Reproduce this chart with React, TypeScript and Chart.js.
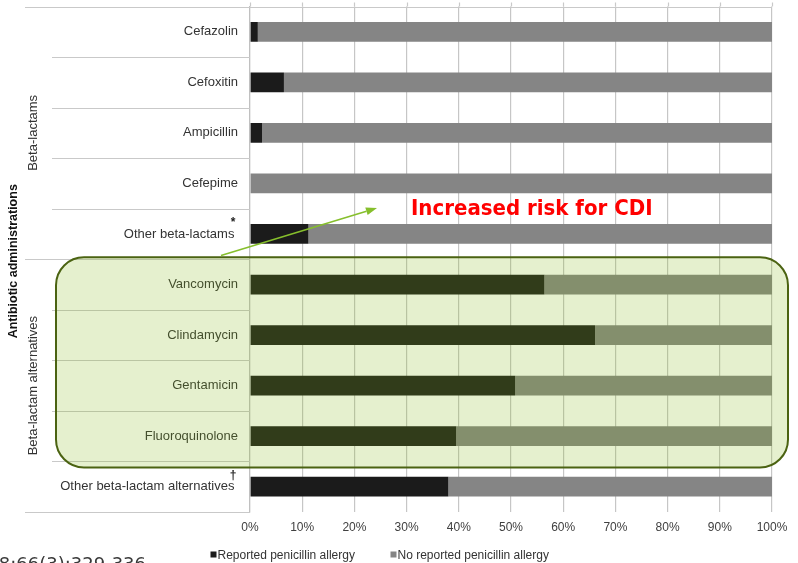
import React, { useEffect, useRef } from "react";
import { Chart, registerables } from "chart.js";

Chart.register(...registerables);

const categories = [
  "Cefazolin",
  "Cefoxitin",
  "Ampicillin",
  "Cefepime",
  "Other beta-lactams ",
  "Vancomycin",
  "Clindamycin",
  "Gentamicin",
  "Fluoroquinolone",
  "Other beta-lactam alternatives ",
];
const allergyValues = [1.5, 6.5, 2.3, 0, 11.2, 56.4, 66.1, 50.8, 39.5, 38.0];
const noAllergyValues = [98.5, 93.5, 97.7, 100, 88.8, 43.6, 33.9, 49.2, 60.5, 62.0];
const seriesNames = ["Reported penicillin allergy", "No reported penicillin allergy"];
const seriesColors = ["#1b1b1b", "#858585"];
const superscripts = [
  { index: 4, mark: "*" },
  { index: 9, mark: "\u2020" },
];
const groups = [
  { name: "Beta-lactams", from: 0, to: 4 },
  { name: "Beta-lactam alternatives", from: 5, to: 9 },
];
const axisTitle = "Antibiotic administrations";
const annotationText = "Increased risk for CDI";
const citationText = "2018;66(3):329-336";
const highlightFrom = 5;
const highlightTo = 8;

const FONT = "'Liberation Sans', Arial, sans-serif";

const decorPlugin = {
  id: "decor",
  afterDraw(chart: any) {
    const ctx = chart.ctx as CanvasRenderingContext2D;
    const y = chart.scales.y;
    const x = chart.scales.x;
    const area = chart.chartArea;
    const n = categories.length;
    const band = (area.bottom - area.top) / n;
    const boundary = (i: number) => area.top + i * band;

    ctx.save();
    // separators in label area
    ctx.strokeStyle = "#c9c9c9";
    ctx.lineWidth = 1.2;
    for (let i = 0; i <= n; i++) {
      const yy = Math.round(boundary(i)) + 0.5;
      const isOuter = i === 0 || i === n || i === groups[1].from;
      ctx.beginPath();
      ctx.moveTo(isOuter ? 25 : 52, yy);
      ctx.lineTo(i === 0 ? area.right : area.left, yy);
      ctx.stroke();
    }
    // grid extension above top
    for (let v = 0; v <= 100; v += 10) {
      const xx = Math.round(x.getPixelForValue(v)) + 0.5;
      ctx.beginPath();
      ctx.moveTo(xx, area.top - 4);
      ctx.lineTo(xx, area.top);
      ctx.stroke();
    }

    // rotated group labels
    ctx.fillStyle = "#333333";
    ctx.textAlign = "center";
    ctx.textBaseline = "middle";
    ctx.font = `13px ${FONT}`;
    groups.forEach((g) => {
      const cy = (boundary(g.from) + boundary(g.to + 1)) / 2;
      ctx.save();
      ctx.translate(33, cy);
      ctx.rotate(-Math.PI / 2);
      ctx.fillText(g.name, 0, 0);
      ctx.restore();
    });
    ctx.font = `bold 12.5px ${FONT}`;
    ctx.fillStyle = "#111111";
    ctx.save();
    ctx.translate(14, (area.top + area.bottom) / 2 + 2);
    ctx.rotate(-Math.PI / 2);
    ctx.fillText(axisTitle, 0, 0);
    ctx.restore();

    // superscripts
    ctx.font = `bold 12px ${FONT}`;
    ctx.fillStyle = "#222222";
    superscripts.forEach((s) => {
      const cy = y.getPixelForValue(s.index);
      ctx.fillText(s.mark, 233, cy - 11);
    });

    // highlight overlay
    const top = boundary(highlightFrom) - 2;
    const bottom = boundary(highlightTo + 1) + 6;
    const left = 56;
    const right = 788;
    const r = 28;
    ctx.beginPath();
    ctx.moveTo(left + r, top);
    ctx.lineTo(right - r, top);
    ctx.arcTo(right, top, right, top + r, r);
    ctx.lineTo(right, bottom - r);
    ctx.arcTo(right, bottom, right - r, bottom, r);
    ctx.lineTo(left + r, bottom);
    ctx.arcTo(left, bottom, left, bottom - r, r);
    ctx.lineTo(left, top + r);
    ctx.arcTo(left, top, left + r, top, r);
    ctx.closePath();
    ctx.fillStyle = "rgba(130,185,25,0.21)";
    ctx.fill();
    ctx.strokeStyle = "#4b6312";
    ctx.lineWidth = 2;
    ctx.stroke();

    // arrow
    const ax0 = 221, ay0 = 255.5, ax1 = 377, ay1 = 208;
    ctx.strokeStyle = "#86bf2c";
    ctx.fillStyle = "#86bf2c";
    ctx.lineWidth = 1.6;
    const ang = Math.atan2(ay1 - ay0, ax1 - ax0);
    const hl = 11, hw = 4;
    const bx = ax1 - hl * Math.cos(ang), by = ay1 - hl * Math.sin(ang);
    ctx.beginPath();
    ctx.moveTo(ax0, ay0);
    ctx.lineTo(bx, by);
    ctx.stroke();
    ctx.beginPath();
    ctx.moveTo(ax1, ay1);
    ctx.lineTo(bx + hw * Math.sin(ang), by - hw * Math.cos(ang));
    ctx.lineTo(bx - hw * Math.sin(ang), by + hw * Math.cos(ang));
    ctx.closePath();
    ctx.fill();

    // annotation text
    ctx.textAlign = "left";
    ctx.textBaseline = "alphabetic";
    ctx.fillStyle = "#ff0000";
    ctx.font = `bold 22px 'DejaVu Sans Condensed', 'DejaVu Sans', sans-serif`;
    let w = ctx.measureText(annotationText).width;
    if (w > 252) {
      ctx.font = `bold 23px ${FONT}`;
      w = ctx.measureText(annotationText).width;
    }
    ctx.fillText(annotationText, 411, 215);

    // legend
    ctx.font = `12px ${FONT}`;
    const legendX = [210.5, 390.5];
    seriesNames.forEach((name, i) => {
      ctx.fillStyle = seriesColors[i];
      ctx.fillRect(legendX[i], 551.5, 6, 6);
      ctx.fillStyle = "#333333";
      ctx.fillText(name, legendX[i] + 7, 559);
    });

    // citation
    ctx.font = `18px 'DejaVu Sans', sans-serif`;
    ctx.fillStyle = "#3a3a3a";
    ctx.textAlign = "right";
    ctx.fillText(citationText, 146, 570);
    ctx.restore();
  },
};

export default function App() {
  const ref = useRef<HTMLCanvasElement | null>(null);
  useEffect(() => {
    if (!ref.current) return;
    const chart = new Chart(ref.current, {
      type: "bar",
      data: {
        labels: categories,
        datasets: [
          {
            label: seriesNames[0],
            data: allergyValues,
            backgroundColor: seriesColors[0],
            barPercentage: 0.39,
            categoryPercentage: 1,
          },
          {
            label: seriesNames[1],
            data: noAllergyValues,
            backgroundColor: seriesColors[1],
            barPercentage: 0.39,
            categoryPercentage: 1,
          },
        ],
      },
      options: {
        indexAxis: "y",
        responsive: false,
        animation: false,
        devicePixelRatio: 1,
        layout: { padding: { left: 0, right: 26, top: 6.5, bottom: 0 } },
        plugins: { legend: { display: false }, tooltip: { enabled: false } },
        scales: {
          x: {
            stacked: true,
            min: 0,
            max: 100,
            ticks: {
              stepSize: 10,
              callback: (v: any) => `${v}%`,
              color: "#404040",
              font: { family: FONT, size: 12 },
              padding: 8,
              maxRotation: 0,
            },
            grid: { color: "#c6c6c6", lineWidth: 1.2, drawTicks: false },
            border: { display: false },
            afterFit: (s: any) => {
              s.height = 51;
              s.paddingLeft = 0;
              s.paddingRight = 0;
            },
          },
          y: {
            stacked: true,
            ticks: {
              color: "#333333",
              font: { family: FONT, size: 13 },
              padding: 12,
            },
            grid: { display: false, drawTicks: false },
            border: { display: true, color: "#c0c0c0", width: 1.2 },
            afterFit: (s: any) => {
              s.width = 250;
              s.paddingTop = 0;
              s.paddingBottom = 0;
            },
          },
        },
      },
      plugins: [decorPlugin],
    });
    return () => chart.destroy();
  }, []);
  return (
    <div style={{ position: "absolute", left: 0, top: 0, width: 798, height: 563, background: "#fff" }}>
      <canvas ref={ref} width={798} height={563} style={{ display: "block" }} />
    </div>
  );
}
